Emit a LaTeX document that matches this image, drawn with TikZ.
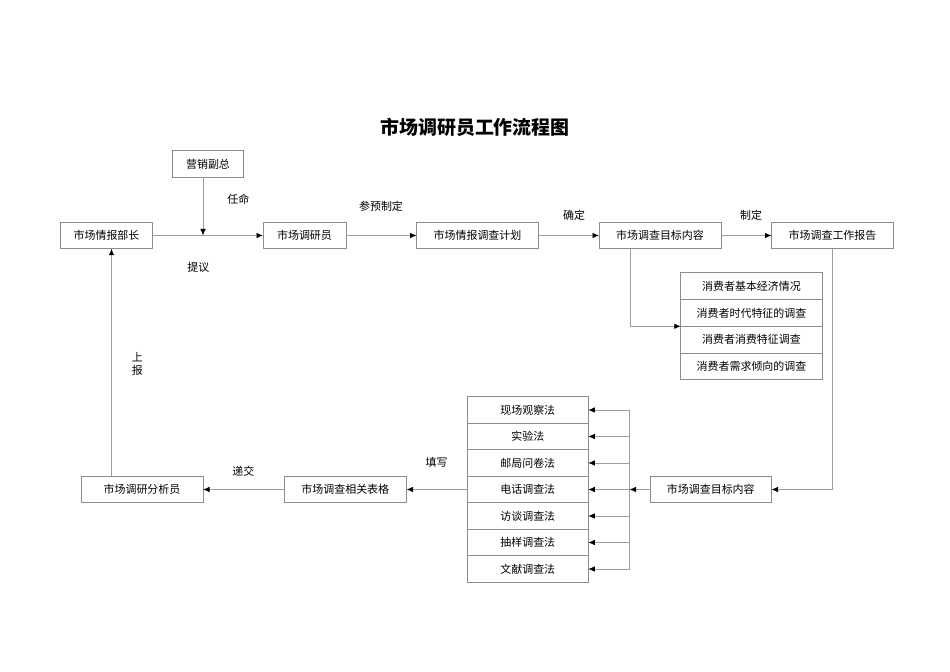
\documentclass[tikz,border=0pt]{standalone}
\usepackage{fontspec}
\newfontfamily\cjk{Noto Sans CJK SC}
\usepackage{tikz}
\usetikzlibrary{arrows.meta,positioning,shapes}
\definecolor{linegray}{rgb}{0.62,0.62,0.62}
\definecolor{boxgray}{rgb}{0.55,0.55,0.55}

\tikzset{
  box/.style={draw=boxgray,line width=0.8bp,minimum height=26.5bp,inner sep=0pt,outer sep=0pt,font=\cjk\fontsize{11}{13}\selectfont},
  flow/.style={draw=linegray,line width=0.8bp,-{Latex[color=black,length=6.5bp,width=5.5bp]}},
  plain/.style={draw=linegray,line width=0.8bp},
  tag/.style={font=\cjk\fontsize{11}{13}\selectfont,inner sep=0pt},
}

\begin{document}
\begin{tikzpicture}[x=1bp,y=1bp]
\useasboundingbox (0bp,0bp) rectangle (950bp,672bp);
%%
  % Title
  \node (title) at (475bp,545bp) {\cjk\bfseries\fontsize{19}{22}\selectfont 市场调研员工作流程图};
  % Node: 营销副总
  \node[box,minimum width=71bp] (vp) at (208bp,508bp) {营销副总};
  % Node: 市场情报部长
  \node[box,minimum width=92bp] (head) at (106.5bp,436.5bp) {市场情报部长};
  % Node: 市场调研员
  \node[box,minimum width=83bp] (res) at (304.5bp,436.5bp) {市场调研员};
  % Node: 市场情报调查计划
  \node[box,minimum width=122bp] (plan) at (477.5bp,436.5bp) {市场情报调查计划};
  % Node: 市场调查目标内容
  \node[box,minimum width=122bp] (goal) at (660bp,436.5bp) {市场调查目标内容};
  % Node: 市场调查工作报告
  \node[box,minimum width=122bp] (report) at (832.5bp,436.5bp) {市场调查工作报告};
  % Node: consumer survey items
  \node[box,minimum width=141.5bp,minimum height=26.8bp] (c1) at (751.5bp,385.9bp) {消费者基本经济情况};
  \node[box,minimum width=141.5bp,minimum height=26.8bp] (c2) at (751.5bp,359.1bp) {消费者时代特征的调查};
  \node[box,minimum width=141.5bp,minimum height=26.8bp] (c3) at (751.5bp,332.3bp) {消费者消费特征调查};
  \node[box,minimum width=141.5bp,minimum height=26.8bp] (c4) at (751.5bp,305.5bp) {消费者需求倾向的调查};
  % Node: survey methods
  \node[box,minimum width=121bp] (m1) at (527.8bp,262bp) {现场观察法};
  \node[box,minimum width=121bp] (m2) at (527.8bp,235.5bp) {实验法};
  \node[box,minimum width=121bp] (m3) at (527.8bp,209bp) {邮局问卷法};
  \node[box,minimum width=121bp] (m4) at (527.8bp,182.5bp) {电话调查法};
  \node[box,minimum width=121bp] (m5) at (527.8bp,156bp) {访谈调查法};
  \node[box,minimum width=121bp] (m6) at (527.8bp,129.5bp) {抽样调查法};
  \node[box,minimum width=121bp] (m7) at (527.8bp,103bp) {文献调查法};
  % Node: 市场调查目标内容 (lower)
  \node[box,minimum width=121.5bp] (goal2) at (710.8bp,182.5bp) {市场调查目标内容};
  % Node: 市场调查相关表格
  \node[box,minimum width=122.5bp] (forms) at (345.3bp,182.5bp) {市场调查相关表格};
  % Node: 市场调研分析员
  \node[box,minimum width=122bp] (analyst) at (142bp,182.5bp) {市场调研分析员};
  \coordinate (bus) at (629.5bp,182.5bp);
%%
  % Edge: 营销副总 -> 部长/调研员 line
  \draw[flow] ([xshift=-5bp]vp.south) -- ([xshift=-5bp]vp.south |- head.east);
  \node[tag] at (238.3bp,472.7bp) {任命};
  % Edge: 市场情报部长 -> 市场调研员
  \draw[flow] (head) -- (res);
  \node[tag] at (198.3bp,404.3bp) {提议};
  % Edge: 市场调研员 -> 市场情报调查计划
  \draw[flow] (res) -- (plan);
  \node[tag] at (381bp,465.3bp) {参预制定};
  % Edge: 市场情报调查计划 -> 市场调查目标内容
  \draw[flow] (plan) -- (goal);
  \node[tag] at (574bp,456.3bp) {确定};
  % Edge: 市场调查目标内容 -> 市场调查工作报告
  \draw[flow] (goal) -- (report);
  \node[tag] at (751bp,457bp) {制定};
  % Edge: 市场调查目标内容 -> consumer items
  \draw[flow] ([xshift=-30bp]goal.south) |- (c2.south west);
  % Edge: 市场调查工作报告 -> 市场调查目标内容 (lower)
  \draw[flow] (report.south) |- (goal2.east);
  % Edge: 市场调查目标内容 (lower) -> methods
  \draw[flow] (goal2.west) -- (bus);
  \draw[plain] (bus |- m1.east) -- (bus |- m7.east);
  \draw[flow] (bus |- m1.east) -- (m1.east);
  \draw[flow] (bus |- m2.east) -- (m2.east);
  \draw[flow] (bus |- m3.east) -- (m3.east);
  \draw[flow] (bus |- m4.east) -- (m4.east);
  \draw[flow] (bus |- m5.east) -- (m5.east);
  \draw[flow] (bus |- m6.east) -- (m6.east);
  \draw[flow] (bus |- m7.east) -- (m7.east);
  % Edge: methods -> 市场调查相关表格
  \draw[flow] (m4.west) -- (forms.east);
  \node[tag] at (436.7bp,209.3bp) {填写};
  % Edge: 市场调查相关表格 -> 市场调研分析员
  \draw[flow] (forms) -- (analyst);
  \node[tag] at (243.3bp,201bp) {递交};
  % Edge: 市场调研分析员 -> 市场情报部长
  \draw[flow] ([xshift=5bp]head.south |- analyst.north) -- ([xshift=5bp]head.south);
  \node[tag,align=center] at (137.3bp,308.3bp) {上\\报};
%
\end{tikzpicture}
\end{document}
